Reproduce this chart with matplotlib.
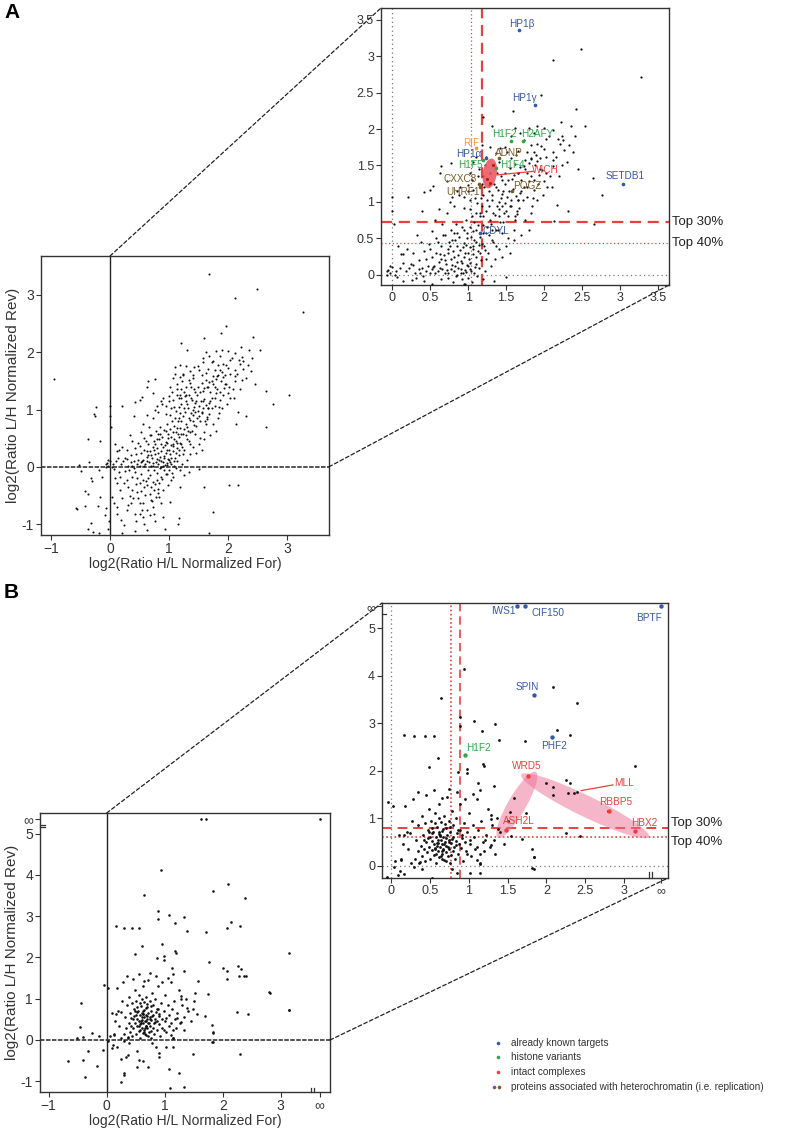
import numpy as np
import matplotlib
matplotlib.use("Agg")
import matplotlib.pyplot as plt
from matplotlib.patches import Ellipse, ConnectionPatch
from matplotlib.lines import Line2D
from matplotlib.transforms import ScaledTranslation

plt.rcParams['font.family'] = ['Liberation Sans', 'DejaVu Sans']

# ---------------- DATA ----------------
# Panel A: log2(H/L For) vs log2(L/H Rev)
a_points = [
 (-0.95,1.53),(-0.23,1.05),(-0.28,0.93),(-0.25,0.89),(-0.37,0.49),(-0.17,0.45),(-0.35,0.09),(-0.52,0.03),
 (-0.50,-0.08),(-0.32,-0.19),(-0.31,-0.25),(-0.18,-0.05),(-0.13,-0.17),(-0.17,-0.52),(-0.43,-0.43),(-0.38,-0.47),
 (-0.57,-0.71),(-0.56,-0.73),(-0.42,-0.69),(-0.20,-0.69),(-0.07,-0.72),(-0.09,-0.84),(-0.33,-0.98),(-0.38,-1.09),
 (-0.29,-1.14),(-0.18,-1.16),(-0.04,-1.09),(-0.02,-0.94),(-0.05,0.06),(-0.03,0.12),(-0.07,0.0),
 (0.07,-0.03),(0.12,-0.29),(0.03,-0.52),(0.06,-0.64),(0.12,-0.82),(0.19,-0.92),(0.20,-1.16),(0.23,-1.02),
 (0.28,-0.76),(0.30,-0.67),(0.34,-0.51),(0.37,-0.41),(0.39,-0.55),(0.42,-0.82),(0.44,-0.94),(0.42,-1.12),
 (0.46,-0.44),(0.50,-0.29),(0.51,-0.64),(0.54,-0.75),(0.56,-0.87),(0.58,-0.99),(0.62,-1.11),(0.63,-0.32),
 (0.65,-0.20),(0.68,-0.47),(0.70,-0.58),(0.73,-0.70),(0.75,-0.82),(0.77,-0.94),(0.79,-0.23),(0.82,-0.38),
 (0.83,-0.52),(0.86,-0.64),(0.89,-0.87),(0.93,-1.08),(0.96,-0.13),(0.99,-0.32),(1.01,-0.61),(1.03,-0.23),
 (1.07,-0.17),(1.15,-1.00),(1.17,-0.90),(1.18,-0.35),(1.34,-0.09),(1.50,-0.03),(1.59,-0.36),(1.75,-0.79),
 (1.68,-1.16),(2.01,-0.31),(2.16,-0.31),
 (0.28,-0.23),(0.31,-0.35),(0.37,-0.17),(0.42,-0.09),(0.45,-0.20),(0.52,-0.13),(0.55,-0.23),(0.57,-0.36),
 (0.60,-0.50),(0.65,-0.06),(0.69,-0.35),(0.72,-0.26),(0.74,-0.41),(0.78,-0.52),(0.80,-0.10),(0.83,-0.29),
 (0.87,-0.17),(0.90,-0.41),(0.92,-0.06),(0.17,-0.41),(0.20,-0.55),(0.11,-0.70),(0.24,-0.29),(0.26,-0.07),
 (0.15,-0.09),(0.08,-0.20),(0.17,-0.17),(0.35,-0.64),(0.48,-0.55),(0.55,-0.64),(0.62,-0.76),(0.68,-0.84),
 (0.50,-0.82),
 (2.49,3.10),(2.11,2.95),(3.27,2.71),(1.96,2.46),(1.59,2.25),(2.42,2.27),(1.20,2.16),(2.22,2.10),
 (2.35,2.04),(2.54,2.04),(1.31,2.04),(1.62,2.01),(1.80,2.02),(1.90,2.04),(2.00,2.02),(2.12,1.99),
 (2.23,1.91),(2.18,1.86),(2.03,1.86),(1.29,1.76),(1.49,1.76),(1.83,1.78),(1.96,1.77),(2.00,1.73),
 (2.11,1.69),(2.21,1.80),(2.33,1.78),(2.38,1.68),(2.26,1.71),(1.89,1.65),(1.63,1.64),(1.75,1.58),
 (1.82,1.59),(1.91,1.56),(1.68,1.48),(0.77,1.54),(0.64,1.49),(2.64,1.33),(2.76,1.10),(2.65,0.70),
 (2.31,0.88),(2.13,0.74),(2.17,0.96),(1.83,0.85),(1.64,0.84),(1.66,1.02),(1.39,1.16),(1.44,1.11),
 (0.86,1.15),(0.54,1.22),(0.42,1.13),(0.21,1.07),(0.40,0.88),(0.00,1.07),(0.00,0.88),(0.02,0.70),
 (-0.07,0.05),(-0.03,0.02),(0.04,0.00),(0.00,0.11),(0.15,0.29),(0.14,0.16),(0.28,0.14),(0.41,-0.02),
 (0.50,0.36),(0.52,0.25),(0.54,0.11),(0.61,0.45),(0.65,0.21),(0.72,0.07),(0.74,0.30),(0.76,0.39),
 (0.79,0.14),(0.81,0.25),(0.83,0.48),(0.85,0.57),(0.86,0.00),(0.89,0.34),(0.92,0.16),(0.94,0.25),
 (0.96,0.07),(0.97,0.41),(0.99,0.57),(1.00,0.30),(1.02,0.66),(1.03,0.16),(1.05,0.80),(1.06,0.36),
 (1.08,0.48),(1.09,0.11),(1.11,0.25),(1.11,0.61),(1.14,0.41),(1.16,0.30),(1.16,0.85),(1.18,0.94),
 (1.20,0.57),(1.22,0.34),(1.25,0.66),(1.25,1.03),(1.29,0.75),(1.31,0.48),(1.33,0.85),(1.36,0.61),
 (1.38,0.94),(1.40,1.00),(1.42,0.73),(1.44,0.57),(1.47,0.85),(1.49,0.98),(1.51,1.07),(1.53,0.80),
 (1.55,0.94),(1.57,1.03),(1.60,0.61),(1.62,0.75),(1.64,0.87),(1.66,1.03),(1.68,1.12),(1.73,1.21),
 (1.77,1.07),(1.80,1.28),(1.84,0.94),(1.86,1.16),(1.90,1.03),(1.93,1.37),(1.97,1.44),(2.00,1.28),
 (2.04,1.21),(2.08,1.35),(2.12,1.49),
 (0.50,1.17),(0.63,1.40),(0.72,1.28),(0.79,1.07),(0.89,1.21),(0.94,1.07),(1.00,1.23),(1.03,1.03),
 (1.07,1.17),(1.20,1.35),(1.27,1.23),(1.38,1.40),(1.44,1.30),(1.49,1.40),(1.55,1.47),(1.60,1.37),
 (1.66,1.40),(1.73,1.49),(1.80,1.53),(1.86,1.69),(1.77,1.69),(1.51,1.69),(1.42,1.74),(1.36,1.67),
 (1.18,1.78),(1.57,1.90),(1.68,1.94),(1.86,1.94),(2.03,1.62),(2.12,1.58),(2.23,1.51),
 (0.45,0.05),(0.50,0.02),(0.55,0.12),(0.58,0.30),(0.60,0.05),(0.62,0.18),(0.64,0.40),(0.66,0.08),
 (0.68,0.27),(0.70,0.55),(0.71,0.15),(0.73,0.02),(0.75,0.45),(0.77,0.22),(0.78,0.62),(0.80,0.33),
 (0.81,0.05),(0.83,0.12),(0.84,0.70),(0.86,0.40),(0.87,0.27),(0.88,0.52),(0.90,0.08),(0.91,0.19),
 (0.92,0.65),(0.93,0.03),(0.95,0.44),(0.96,0.30),(0.97,0.75),(0.98,0.13),(0.99,0.50),(1.01,0.22),
 (1.02,0.90),(1.03,0.38),(1.04,0.05),(1.06,0.60),(1.07,0.28),(1.08,0.72),(1.10,0.15),(1.11,0.45),
 (1.12,0.98),(1.13,0.33),(1.15,0.80),(1.16,0.52),(1.17,0.20),(1.19,0.68),(1.20,1.10),(1.21,0.40),
 (1.23,0.88),(1.24,0.58),(1.26,0.30),(1.27,0.95),(1.28,1.15),(1.30,0.70),(1.32,1.02),(1.33,0.45),
 (1.35,0.82),(1.37,1.20),(1.39,0.62),(1.41,0.90),(1.43,1.05),(1.46,0.72),(1.48,1.25),(1.50,0.88),
 (1.52,0.50),(1.54,1.15),(1.56,0.95),(1.58,1.32),(1.61,0.80),(1.63,1.08),(1.65,1.40),(1.67,0.92),
 (1.70,1.30),(1.72,1.02),(1.75,1.45),(1.78,1.20),(1.82,1.35),(1.85,1.05),(1.88,1.50),(1.92,1.25),
 (1.95,1.60),(0.35,0.20),(0.38,0.45),(0.40,0.10),(0.42,0.32),(0.30,0.02),(0.25,0.15),(0.20,0.35),
 (0.18,0.05),(0.10,0.10),(0.12,0.28),(0.05,0.05),(0.08,0.40),(0.52,0.60),(0.56,0.75),(0.62,0.90),
 (0.66,0.70),(0.72,0.85),(0.76,1.00),(0.82,0.95),(0.88,1.10),(0.94,0.92),(1.00,1.15),(1.05,1.30),
 (1.09,1.05),(1.14,1.45),(1.18,1.25),(1.22,1.50),
 (0.32,-0.05),(0.36,0.08),(0.44,-0.30),(0.47,0.12),(0.53,-0.42),(0.57,0.02),(0.61,-0.25),(0.63,0.10),
 (0.67,-0.15),(0.69,0.20),(0.71,-0.60),(0.74,-0.05),(0.76,-0.30),(0.78,0.08),(0.81,-0.45),(0.84,-0.02),
 (0.85,0.18),(0.88,-0.22),(0.90,0.02),(0.94,-0.12),(0.97,0.04),(1.00,-0.05),(1.02,0.08),(1.05,-0.10),
 (1.08,0.02),(1.12,-0.02),(1.14,0.10),(1.19,-0.06),(1.22,0.05),(1.26,-0.15),(1.30,0.12),(1.35,0.22),
 (1.40,0.35),(1.45,0.25),(1.50,0.40),(1.55,0.30),(1.60,0.48),(1.70,0.55),(1.75,0.75),(1.80,0.62),
 (1.02,1.40),(1.06,1.55),(1.10,1.62),(1.13,1.35),(1.17,1.05),(1.21,1.20),(1.24,1.62),(1.29,1.40),
 (1.31,1.10),(1.34,1.25),(1.40,1.55),(1.43,1.35),(1.46,1.15),(1.52,1.30),(1.56,1.60),(1.59,1.18),
 (1.62,1.52),(1.66,1.70),(1.70,1.15),(1.74,1.85),(1.78,1.40),(1.83,1.60),(1.87,1.30),(1.91,1.80),
 (1.94,1.45),(1.98,1.10),(2.02,1.40),(2.06,1.90),(2.10,1.20),(2.15,1.62),(2.20,1.35),(2.25,1.85),
 (2.30,1.55),(2.40,1.90),(2.45,1.45),
 (0.22,0.10),(0.28,0.30),(0.33,0.55),(0.37,0.02),(0.44,0.22),(0.48,0.42),(0.52,0.08),(0.58,0.50),
 (0.63,0.28),(0.67,0.55),(0.69,0.02),(0.73,0.35),(0.79,0.48),(0.82,0.58),(0.87,0.10),(0.93,0.38),
 (0.95,0.62),(1.00,0.12),(1.04,0.52),(1.07,0.40),(1.10,0.85),(1.13,0.68),(1.18,0.42),(1.20,0.80),
 (1.24,0.22),(1.28,0.55),(1.32,0.62),(1.36,0.40),(1.40,0.80),(1.44,0.95),
]

# highlighted proteins in panel A
a_hl_names = ["HP1\u03b2", "HP1\u03b3", "HP1\u03b1", "SETDB1", "CDYL", "H1F2", "H2AFY", "H1F5", "H1F4",
              "RIF", "ADNP", "CXXC8", "UHRF1", "POGZ"]
a_hl_x = [1.675, 1.88, 1.23, 3.04, 1.15, 1.57, 1.72, 1.19, 1.36, 1.10, 1.41, 1.14, 1.16, 1.58]
a_hl_y = [3.36, 2.33, 1.60, 1.25, 0.57, 1.83, 1.83, 1.57, 1.47, 1.74, 1.60, 1.25, 1.20, 1.15]
a_hl_cat = ["known", "known", "known", "known", "known", "histone", "histone", "histone", "histone",
            "rif", "hetero", "hetero", "hetero", "hetero"]
a_lab_x = [1.71, 1.74, 1.01, 3.06, 1.37, 1.48, 1.91, 1.03, 1.58, 1.04, 1.54, 0.90, 0.93, 1.78]
a_lab_y = [3.44, 2.43, 1.66, 1.36, 0.60, 1.93, 1.93, 1.51, 1.51, 1.81, 1.67, 1.32, 1.13, 1.22]
a_wich_x = [1.33, 1.25, 1.29]
a_wich_y = [1.51, 1.31, 1.26]
a_thr_x = [1.18, 1.04]   # top 30 %, top 40 %
a_thr_y = [0.73, 0.43]

# Panel B
INF = np.inf
b_points = [
 (0.94,4.13),(0.64,3.52),(2.09,3.77),(2.39,3.43),
 (0.16,2.76),(0.29,2.72),(0.43,2.72),(0.89,3.12),(0.89,2.94),(1.07,3.04),(1.34,2.98),(1.17,2.84),
 (1.39,2.64),(1.72,2.62),(2.14,2.86),(2.30,2.76),(0.60,2.27),(0.49,2.08),(0.86,1.98),(0.98,2.04),
 (0.98,1.95),(1.18,2.15),(1.20,2.10),(1.12,1.74),(1.33,1.67),(2.00,1.74),(2.08,1.66),(2.26,1.80),
 (2.31,1.73),(2.28,1.54),(2.36,1.54),(2.08,1.48),(3.15,2.10),(1.58,1.42),(1.53,1.13),(1.74,1.11),
 (1.28,1.06),(1.28,0.99),(1.38,0.78),(1.69,0.57),(1.82,0.36),(1.84,0.18),(2.25,0.68),(2.43,0.62),
 (-0.04,1.34),(0.02,1.25),(2.80,1.16),(3.15,0.73),(0.55,2.72),
 (-0.45,0.90),(-0.46,0.32),(-0.52,0.05),(-0.41,0.08),(-0.25,0.18),(-0.14,0.10),(-0.32,-0.26),(-0.41,-0.48),
 (-0.67,-0.52),(-0.37,-0.89),(-0.16,-0.63),(-0.06,-0.24),(0.09,-0.20),(0.11,-0.12),(0.17,-0.18),(0.24,-0.47),
 (0.25,-1.01),(0.29,-0.85),(0.30,-0.81),(0.33,-0.40),(0.37,-0.36),(0.39,-0.08),(0.53,-0.27),(0.55,-0.48),
 (0.52,-0.66),(0.71,-0.65),(0.63,-0.52),(0.91,-0.40),(0.91,-0.32),(1.02,-0.16),(1.15,-0.16),(0.85,-0.16),
 (0.78,-0.08),(1.49,-0.35),(2.30,-0.35),(1.08,-0.71),(1.24,-0.79),(1.09,-1.16),(1.34,-1.13),(1.81,-0.04),
 (1.84,-0.06),(1.84,0.19),
 (0.30,0.15),(0.32,0.55),(0.34,0.30),(0.35,0.85),(0.36,0.05),(0.38,0.42),(0.39,1.05),(0.40,0.20),
 (0.41,0.65),(0.42,0.35),(0.43,0.90),(0.44,0.10),(0.45,0.50),(0.46,0.28),(0.47,0.75),(0.48,1.20),
 (0.49,0.40),(0.50,0.60),(0.50,0.15),(0.51,0.95),(0.52,0.33),(0.53,0.52),(0.54,0.70),(0.55,0.22),
 (0.55,0.45),(0.56,1.10),(0.57,0.38),(0.58,0.60),(0.58,0.05),(0.59,0.82),(0.60,0.30),(0.60,0.48),
 (0.61,0.66),(0.62,0.18),(0.62,1.30),(0.63,0.40),(0.64,0.55),(0.64,0.92),(0.65,0.25),(0.65,0.72),
 (0.66,0.45),(0.67,0.35),(0.67,0.60),(0.68,1.05),(0.68,0.12),(0.69,0.50),(0.70,0.80),(0.70,0.28),
 (0.71,0.42),(0.72,0.65),(0.72,1.45),(0.73,0.20),(0.74,0.55),(0.74,0.95),(0.75,0.35),(0.76,0.70),
 (0.76,0.05),(0.77,0.48),(0.78,1.15),(0.79,0.30),(0.80,0.60),(0.80,0.85),(0.81,0.40),(0.82,0.15),
 (0.83,0.52),(0.84,1.00),(0.85,0.68),(0.86,0.25),(0.87,0.45),(0.88,1.30),(0.89,0.75),(0.90,0.38),
 (0.91,0.58),(0.92,0.10),(0.94,0.90),(0.95,0.50),(0.96,0.30),(0.98,0.70),(1.00,1.10),(1.01,0.45),
 (1.03,0.20),(1.05,0.85),(1.07,0.60),(1.08,0.35),(1.10,1.40),(1.12,0.75),(1.14,0.05),(1.16,0.95),
 (1.18,0.50),(1.20,0.30),(1.22,0.65),(1.25,1.20),(1.27,0.40),(1.30,0.85),(1.33,0.55),(1.36,1.00),
 (1.40,0.70),(1.45,0.45),(1.50,0.95),(1.55,0.62),(0.20,0.70),(0.22,0.35),(0.25,0.05),(0.27,0.95),
 (0.15,0.45),(0.12,0.15),(0.10,0.65),(0.05,0.10),(0.18,1.25),(0.28,1.40),(0.35,1.55),(0.45,1.48),
 (0.55,1.60),(0.65,1.42),(0.75,1.62),(0.85,1.55),(0.95,1.40),(1.05,1.50),(1.15,1.60),(0.58,0.25),
 (0.62,0.70),(0.66,0.15),(0.70,0.58),(0.53,0.80),(0.47,0.58),(0.57,0.90),(0.73,0.40),(0.61,1.00),
 (0.69,0.88),(0.77,0.22),(0.59,0.42),(0.63,0.62),(0.67,0.78),(0.71,0.10),(0.56,0.35),(0.52,0.68),
 (0.74,0.50),(0.66,0.30),(0.60,0.55),(0.64,0.20),(0.68,0.45),
 (0.16,0.64),(0.24,0.68),(0.42,0.54),(0.48,0.71),(0.59,0.47),(0.63,0.64),(0.67,0.33),(0.76,0.82),
 (0.78,0.57),(0.83,0.43),(0.86,0.75),(0.91,0.64),(0.98,0.25),(1.02,0.54),(1.10,0.40),(1.15,0.25),
 (1.21,0.54),(1.28,0.43),(1.34,0.25),(1.11,0.11),(1.15,0.04),(0.37,0.08),(0.12,0.11),(0.29,-0.02),
 (0.03,-0.02),
]
b_hl_names = ["IWS1", "CIF150", "BPTF", "SPIN", "PHF2", "H1F2", "WRD5", "RBBP5", "HBX2", "ASH2L"]
b_hl_x = [1.62, 1.72, INF, 1.84, 2.07, 0.95, 1.76, 2.81, 3.14, 1.48]
b_hl_y = [INF, INF, INF, 3.60, 2.71, 2.32, 1.89, 1.15, 0.72, 0.75]
b_hl_cat = ["known", "known", "known", "known", "known", "histone", "complex", "complex", "complex", "complex"]
b_lab_x = [1.44, 2.02, 3.33, 1.76, 2.10, 1.13, 1.75, 2.89, 3.27, 1.64]
b_lab_y = [5.37, 5.32, 5.22, 3.77, 2.52, 2.48, 2.09, 1.33, 0.90, 0.95]
b_mll_x, b_mll_y = 2.40, 1.56
b_thr_x = [0.88, 0.77]
b_thr_y = [0.80, 0.61]

legend_labels = ["already known targets", "histone variants", "intact complexes",
                 "proteins associated with heterochromatin (i.e. replication)"]

# ---------------- STYLE ----------------
COL = {"known": "#3558a8", "histone": "#2fa64a", "complex": "#e8413c",
       "rif": "#f39a3c", "hetero": "#7a5c2c"}
PURPLE = "#7b4ea3"
W, H = 796, 1133
fig = plt.figure(figsize=(W / 100, H / 100), dpi=100)


def rect(l, t, r, b):
    return [l / W, 1 - b / H, (r - l) / W, (b - t) / H]


def style_axes(ax, fs):
    for s in ax.spines.values():
        s.set_linewidth(1.0)
        s.set_color("#333333")
    ax.tick_params(direction="out", length=3.5, width=0.8, colors="#333333",
                   labelsize=fs, labelcolor="#333333", pad=1.5)


def split(points):
    xs = np.array([p[0] for p in points], dtype=float)
    ys = np.array([p[1] for p in points], dtype=float)
    return xs, ys


def place_inf(v, pos):
    v = np.asarray(v, dtype=float)
    return np.where(np.isinf(v), pos, v)


def top_labels(ax, ys, offsets):
    for y, lab, off in zip(ys, ["Top 30%", "Top 40%"], offsets):
        ax.annotate(lab, xy=(1.0, y), xycoords=ax.get_yaxis_transform(),
                    xytext=(2, off), textcoords="offset points", fontsize=9.5,
                    va="center", ha="left", color="#222222", annotation_clip=False)


# ---------------- PANEL A ----------------
ax_x, ax_y = split(a_points)
ax_x = np.concatenate([ax_x, a_hl_x, a_wich_x])
ax_y = np.concatenate([ax_y, a_hl_y, a_wich_y])

axA = fig.add_axes(rect(41, 256, 329, 535))
style_axes(axA, 10)
axA.scatter(ax_x, ax_y, s=2.2, c="#111111", linewidths=0, zorder=3)
axA.axvline(0, color="#222222", lw=1.0, zorder=2)
axA.axhline(0, color="#444444", lw=1.3, ls=(0, (2.5, 0.8)), zorder=2)
axA.set_xlim(-1.17, 3.71)
axA.set_ylim(-1.19, 3.68)
axA.set_xticks([-1, 0, 1, 2, 3])
axA.set_xticklabels(["\u22121", "0", "1", "2", "3"])
axA.set_yticks([-1, 0, 1, 2, 3])
axA.set_yticklabels(["-1", "0", "1", "2", "3"])
axA.set_xlabel("log2(Ratio H/L Normalized For)", fontsize=10, color="#333333", labelpad=1)
axA.set_ylabel("log2(Ratio L/H Normalized Rev)", fontsize=11, color="#333333", labelpad=1)

inA = fig.add_axes(rect(381, 8, 669, 285))
style_axes(inA, 9)
in_mask = (ax_x >= -0.2) & (ax_y >= -0.2)
inA.scatter(ax_x[in_mask], ax_y[in_mask], s=2.6, c="#111111", linewidths=0, zorder=3)
inA.axvline(0, color="#777777", lw=0.9, ls=(0, (1, 2.5)), zorder=1)
inA.axhline(0, color="#777777", lw=0.9, ls=(0, (1, 2.5)), zorder=1)
inA.axvline(a_thr_x[0], color="#e8413c", lw=1.6, ls=(0, (5, 3)), zorder=2)
inA.axvline(a_thr_x[1], color="#e8413c", lw=0.9, ls=(0, (1, 2)), zorder=2)
inA.axhline(a_thr_y[0], color="#e8413c", lw=1.6, ls=(0, (5, 3)), zorder=2)
inA.axhline(a_thr_y[1], color="#e8413c", lw=0.9, ls=(0, (1, 2)), zorder=2)
inA.set_xlim(-0.145, 3.64)
inA.set_ylim(-0.14, 3.66)
ticks = [0, 0.5, 1, 1.5, 2, 2.5, 3, 3.5]
tlabs = ["0", "0.5", "1", "1.5", "2", "2.5", "3", "3.5"]
inA.set_xticks(ticks)
inA.set_xticklabels(tlabs)
inA.set_yticks(ticks)
inA.set_yticklabels(tlabs)
top_labels(inA, a_thr_y, [0, 0])

# WICH ellipse
trA = fig.dpi_scale_trans + ScaledTranslation(1.285, 1.39, inA.transData)
inA.add_patch(Ellipse((0, 0), 0.14, 0.30, angle=-8, transform=trA, facecolor="#e8505a",
                      alpha=0.85, edgecolor="none", zorder=4))
inA.scatter(a_wich_x, a_wich_y, s=5, c="#c0141c", linewidths=0, zorder=5)
inA.plot([1.38, 1.86], [1.37, 1.42], color="#e8413c", lw=0.9, zorder=5)
inA.text(2.02, 1.44, "WICH", color="#e8413c", fontsize=7.2, ha="center", va="center", zorder=6)

for name, x, y, cat, lx, ly in zip(a_hl_names, a_hl_x, a_hl_y, a_hl_cat, a_lab_x, a_lab_y):
    inA.scatter([x], [y], s=7, c=COL[cat], linewidths=0, zorder=6)
    inA.text(lx, ly, name, color=COL[cat], fontsize=7.2, ha="center", va="center", zorder=7)

for xyA, cA, xyB in [((0, 1), axA.get_xaxis_transform(), (0, 1)),
                     ((1, 0), axA.get_yaxis_transform(), (1, 0))]:
    con = ConnectionPatch(xyA=xyA, coordsA=cA, xyB=xyB, coordsB=inA.transAxes,
                          color="#222222", lw=0.9, ls=(0, (3, 2)))
    fig.add_artist(con)

# ---------------- PANEL B ----------------
bx, by = split(b_points)
bx = np.concatenate([bx, b_hl_x, [b_mll_x]])
by = np.concatenate([by, b_hl_y, [b_mll_y]])

XINF_M, YINF_M = 3.67, 5.35
XINF_I, YINF_I = 3.48, 5.46

axB = fig.add_axes(rect(40, 813, 330, 1092))
style_axes(axB, 10)
axB.scatter(place_inf(bx, XINF_M), place_inf(by, YINF_M), s=3.4, c="#111111", linewidths=0, zorder=3)
axB.axvline(0, color="#222222", lw=1.0, zorder=2)
axB.axhline(0, color="#444444", lw=1.3, ls=(0, (2.5, 0.8)), zorder=2)
axB.set_xlim(-1.15, 3.85)
axB.set_ylim(-1.26, 5.5)
axB.set_xticks([-1, 0, 1, 2, 3, XINF_M])
axB.set_xticklabels(["\u22121", "0", "1", "2", "3", "\u221e"])
axB.set_yticks([-1, 0, 1, 2, 3, 4, 5, YINF_M])
axB.set_yticklabels(["-1", "0", "1", "2", "3", "4", "5", "\u221e"])
axB.set_xlabel("log2(Ratio H/L Normalized For)", fontsize=10, color="#333333", labelpad=1)
axB.set_ylabel("log2(Ratio L/H Normalized Rev)", fontsize=11, color="#333333", labelpad=1)
for yy in (5.15, 5.22):
    axB.plot([-1.15, -1.07], [yy, yy], color="#333333", lw=0.9, clip_on=False, zorder=5)
for xx in (3.53, 3.58):
    axB.plot([xx, xx], [-1.26, -1.17], color="#333333", lw=0.9, clip_on=False, zorder=5)

inB = fig.add_axes(rect(382, 603, 668, 878))
style_axes(inB, 9)
bxi, byi = place_inf(bx, XINF_I), place_inf(by, YINF_I)
mask = (bxi >= -0.15) & (byi >= -0.3)
inB.scatter(bxi[mask], byi[mask], s=4.0, c="#111111", linewidths=0, zorder=3)
inB.axvline(0, color="#777777", lw=0.9, ls=(0, (1, 2.5)), zorder=1)
inB.axhline(0, color="#777777", lw=0.9, ls=(0, (1, 2.5)), zorder=1)
inB.axvline(b_thr_x[0], color="#e8413c", lw=1.2, ls=(0, (5, 3)), zorder=2)
inB.axvline(b_thr_x[1], color="#e8413c", lw=1.2, ls=(0, (1, 1.5)), zorder=2)
inB.axhline(b_thr_y[0], color="#e8413c", lw=1.4, ls=(0, (5, 3)), zorder=2)
inB.axhline(b_thr_y[1], color="#e8413c", lw=1.2, ls=(0, (1, 1.5)), zorder=2)
inB.set_xlim(-0.12, 3.57)
inB.set_ylim(-0.26, 5.53)
inB.set_xticks([0, 0.5, 1, 1.5, 2, 2.5, 3, XINF_I])
inB.set_xticklabels(["0", "0.5", "1", "1.5", "2", "2.5", "3", "\u221e"])
inB.set_yticks([0, 1, 2, 3, 4, 5, YINF_I])
inB.set_yticklabels(["0", "1", "2", "3", "4", "5", "\u221e"])
top_labels(inB, b_thr_y, [3, -4])
for xx in (3.33, 3.37):
    inB.plot([xx, xx], [-0.26, -0.14], color="#333333", lw=0.9, clip_on=False, zorder=5)
inB.plot([-0.12, -0.07], [5.30, 5.30], color="#333333", lw=0.9, clip_on=False, zorder=5)

for cx, cy, w, h, ang in [(2.50, 1.26, 1.42, 0.21, -26), (1.62, 1.28, 0.76, 0.18, 60)]:
    tr = fig.dpi_scale_trans + ScaledTranslation(cx, cy, inB.transData)
    inB.add_patch(Ellipse((0, 0), w, h, angle=ang, transform=tr, facecolor="#ef6f96",
                          alpha=0.5, edgecolor="none", zorder=2.5))

for name, x, y, cat, lx, ly in zip(b_hl_names, b_hl_x, b_hl_y, b_hl_cat, b_lab_x, b_lab_y):
    xi = XINF_I if np.isinf(x) else x
    yi = YINF_I if np.isinf(y) else y
    inB.scatter([xi], [yi], s=10, c=COL[cat], linewidths=0, zorder=6)
    inB.text(lx, ly, name, color=COL[cat], fontsize=7.2, ha="center", va="center", zorder=7)
inB.plot([2.45, 2.86], [1.58, 1.70], color="#e8413c", lw=0.9, zorder=5)
inB.text(3.00, 1.74, "MLL", color="#e8413c", fontsize=7.2, ha="center", va="center", zorder=7)

for xyA, cA, xyB in [((0, 1), axB.get_xaxis_transform(), (0, 1)),
                     ((1, 0), axB.get_yaxis_transform(), (1, 0))]:
    con = ConnectionPatch(xyA=xyA, coordsA=cA, xyB=xyB, coordsB=inB.transAxes,
                          color="#222222", lw=0.9, ls=(0, (3, 2)))
    fig.add_artist(con)

# ---------------- panel letters & legend ----------------
fig.text(4 / W, 1 - 3 / H, "A", fontsize=15, fontweight="bold", va="top", ha="left")
fig.text(4 / W, 1 - 583 / H, "B", fontsize=15, fontweight="bold", va="top", ha="left")

leg_y = [1043, 1057, 1072, 1087]
leg_cols = [[COL["known"]], [COL["histone"]], [COL["complex"]], [PURPLE, COL["hetero"]]]
for yy, cols, lab in zip(leg_y, leg_cols, legend_labels):
    xs = [498] if len(cols) == 1 else [494, 499]
    for xd, c in zip(xs, cols):
        fig.add_artist(Line2D([xd / W], [1 - yy / H], marker="o", markersize=2.6, color=c,
                              markeredgewidth=0, transform=fig.transFigure))
    fig.text(511 / W, 1 - yy / H, lab, fontsize=7.2, va="center", ha="left", color="#333333")

fig.savefig("out.png", dpi=100)
